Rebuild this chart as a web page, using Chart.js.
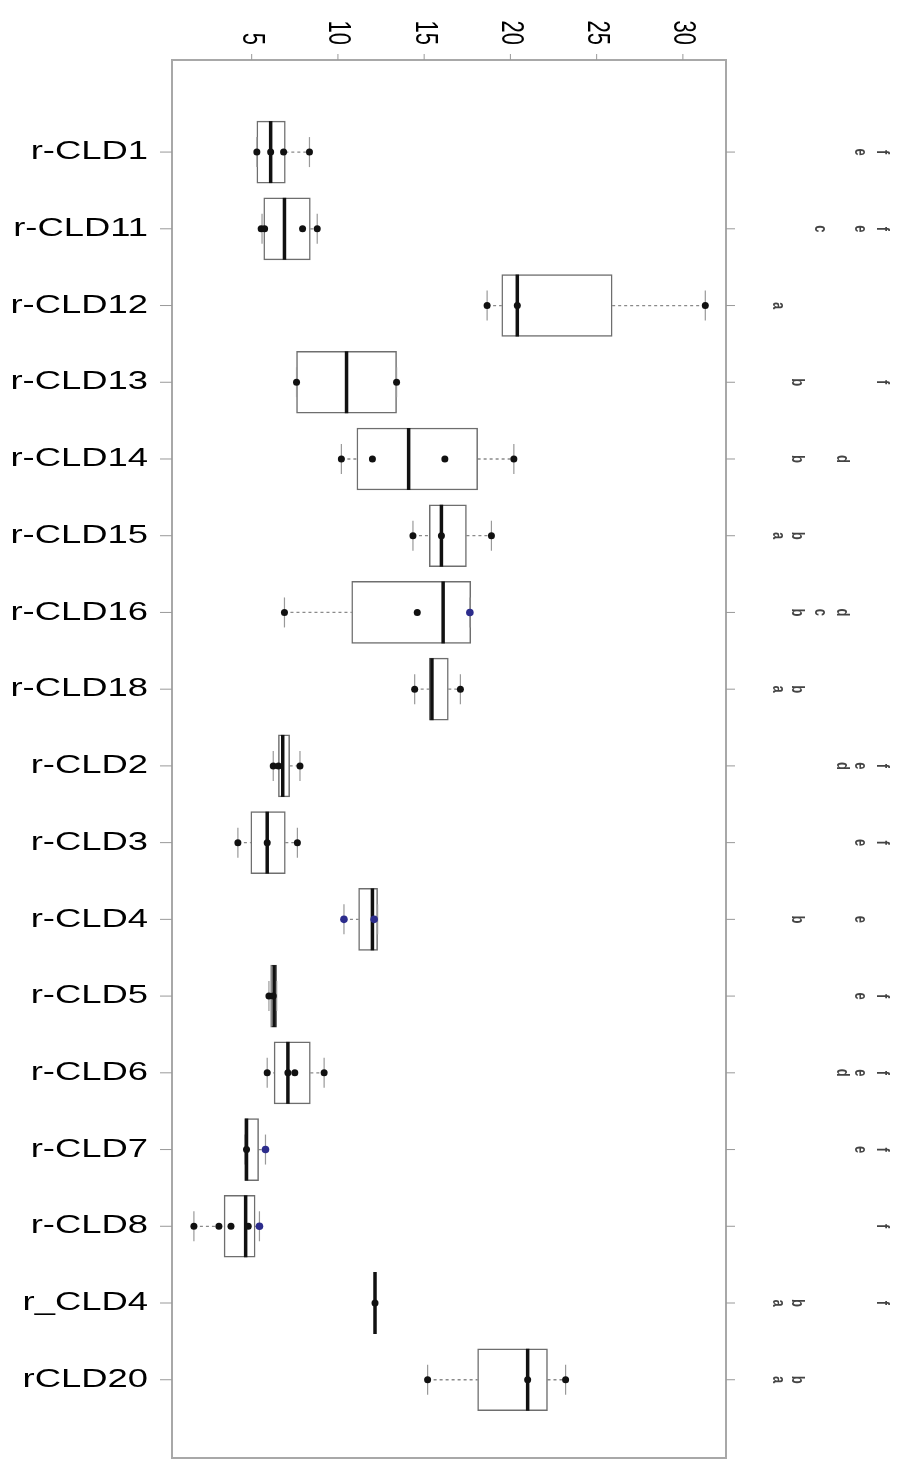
<!DOCTYPE html>
<html>
<head>
<meta charset="utf-8">
<style>
  html, body { margin: 0; padding: 0; background: #fff; overflow: hidden; }
  #wrap { position: relative; width: 899px; height: 1469px; }
</style>
<script src="https://cdn.jsdelivr.net/npm/chart.js@4.4.1/dist/chart.umd.min.js"></script>
</head>
<body>
<div id="wrap"><canvas id="myChart"></canvas></div>
<script>
'use strict';

// data

let cats = ['r-CLD1', 'r-CLD11', 'r-CLD12', 'r-CLD13', 'r-CLD14', 'r-CLD15', 'r-CLD16', 'r-CLD18',
  'r-CLD2', 'r-CLD3', 'r-CLD4', 'r-CLD5', 'r-CLD6', 'r-CLD7', 'r-CLD8', 'r_CLD4', 'rCLD20'];

let q1     = [5.3, 5.7, 19.5, 7.6, 11.1, 15.3, 10.8, 15.3, 6.55, 4.95, 11.2, 6.1, 6.3, 4.6, 3.4, 12.15, 18.1];
let median = [6.1, 6.9, 20.4, 10.5, 14.1, 16.0, 16.1, 15.45, 6.8, 5.9, 12.0, 6.3, 7.1, 4.7, 4.65, 12.15, 21.0];
let q3     = [6.95, 8.4, 25.9, 13.4, 18.1, 17.45, 17.7, 16.4, 7.2, 6.95, 12.3, 6.45, 8.4, 5.4, 5.2, 12.15, 22.15];
let loW    = [5.3, 5.6, 18.65, 7.6, 10.2, 14.35, 6.9, 14.45, 6.25, 4.2, 10.35, 6.0, 5.9, 4.6, 1.65, 12.15, 15.2];
let hiW    = [8.35, 8.8, 31.3, 13.4, 20.2, 18.9, 17.65, 17.1, 7.8, 7.65, 12.3, 6.45, 9.2, 5.8, 5.45, 12.15, 23.2];

let pointsBlack = [
  [5.3, 6.1, 6.85, 8.35],
  [5.55, 5.75, 7.95, 8.8],
  [18.65, 20.4, 31.3],
  [7.6, 13.4],
  [10.2, 12.0, 16.2, 20.2],
  [14.35, 16.0, 18.9],
  [6.9, 14.6],
  [14.45, 17.1],
  [6.25, 6.55, 7.8],
  [4.2, 5.9, 7.65],
  [],
  [6.0, 6.25],
  [5.9, 7.1, 7.5, 9.2],
  [4.7],
  [1.65, 3.1, 3.8, 4.8],
  [12.15],
  [15.2, 21.0, 23.2]
];
let pointsBlue = [[], [], [], [], [], [], [17.65], [], [], [], [10.35, 12.1], [], [], [5.8], [5.45], [], []];

let xTicks = [5, 10, 15, 20, 25, 30];

// group letters on the right side
let groups = ['ef', 'cef', 'a', 'bf', 'bd', 'ab', 'bcd', 'ab', 'def', 'ef', 'be', 'ef', 'def', 'ef', 'f', 'abf', 'ab'];


// build datasets from the arrays

let boxData = [];
let medData = [];
let stapleData = [];
let blackData = [];
let blueData = [];
for (let i = 0; i < cats.length; i++) {
  boxData.push({x: [q1[i], q3[i]], y: i});
  medData.push({x: median[i], y: i});
  stapleData.push({x: loW[i], y: i});
  stapleData.push({x: hiW[i], y: i});
  for (let j = 0; j < pointsBlack[i].length; j++) {
    blackData.push({x: pointsBlack[i][j], y: i});
  }
  for (let j = 0; j < pointsBlue[i].length; j++) {
    blueData.push({x: pointsBlue[i][j], y: i});
  }
}

const FONT = '"Liberation Sans", Arial, Helvetica, sans-serif';
const STRETCH = 1.4;

// whiskers under the boxes
const whiskerPlugin = {
  id: 'whiskers',
  beforeDatasetsDraw(chart) {
    const ctx = chart.ctx;
    const xs = chart.scales.x;
    const ys = chart.scales.y;
    ctx.save();
    ctx.strokeStyle = '#8a8a8a';
    ctx.lineWidth = 1.3;
    ctx.setLineDash([3, 3]);
    for (let i = 0; i < cats.length; i++) {
      let y = ys.getPixelForValue(i);
      ctx.beginPath();
      ctx.moveTo(xs.getPixelForValue(loW[i]), y);
      ctx.lineTo(xs.getPixelForValue(q1[i]), y);
      ctx.moveTo(xs.getPixelForValue(q3[i]), y);
      ctx.lineTo(xs.getPixelForValue(hiW[i]), y);
      ctx.stroke();
    }
    ctx.restore();
  }
};

// frame, ticks and text
const framePlugin = {
  id: 'frame',
  afterDraw(chart) {
    const ctx = chart.ctx;
    const a = chart.chartArea;
    const xs = chart.scales.x;
    const ys = chart.scales.y;
    ctx.save();

    ctx.strokeStyle = '#a8a8a8';
    ctx.lineWidth = 2;
    ctx.strokeRect(a.left, a.top, a.right - a.left, a.bottom - a.top);

    // top axis
    ctx.lineWidth = 1;
    ctx.strokeStyle = '#999';
    ctx.fillStyle = '#000';
    ctx.font = '22px ' + FONT;
    for (let k = 0; k < xTicks.length; k++) {
      let x = xs.getPixelForValue(xTicks[k]);
      ctx.beginPath();
      ctx.moveTo(x, a.top);
      ctx.lineTo(x, a.top - 6);
      ctx.stroke();
      ctx.save();
      ctx.translate(x, a.top - 15);
      ctx.scale(STRETCH, 1);
      ctx.rotate(Math.PI / 2);
      ctx.textAlign = 'right';
      ctx.textBaseline = 'middle';
      ctx.fillText(String(xTicks[k]), 0, 0);
      ctx.restore();
    }

    // category ticks and labels
    ctx.font = '26px ' + FONT;
    for (let i = 0; i < cats.length; i++) {
      let y = ys.getPixelForValue(i);
      ctx.beginPath();
      ctx.moveTo(a.left, y);
      ctx.lineTo(a.left - 12, y);
      ctx.moveTo(a.right, y);
      ctx.lineTo(a.right + 9, y);
      ctx.stroke();
      ctx.save();
      ctx.translate(a.left - 24, y);
      ctx.scale(STRETCH, 1);
      ctx.textAlign = 'right';
      ctx.textBaseline = 'middle';
      ctx.fillStyle = '#000';
      ctx.fillText(cats[i], 0, 0);
      ctx.restore();
    }

    // group letters
    const colOffset = {a: 52, b: 71, c: 94, d: 116, e: 134, f: 156};
    ctx.font = 'bold 13px ' + FONT;
    ctx.fillStyle = '#444';
    for (let i = 0; i < cats.length; i++) {
      let y = ys.getPixelForValue(i);
      for (let c of groups[i]) {
        ctx.save();
        ctx.translate(a.right + colOffset[c], y);
        ctx.scale(STRETCH, 1);
        ctx.rotate(Math.PI / 2);
        ctx.textAlign = 'center';
        ctx.textBaseline = 'middle';
        ctx.fillText(c, 0, 0);
        ctx.restore();
      }
    }
    ctx.restore();
  }
};

const bgPlugin = {
  id: 'bg',
  beforeDraw(chart) {
    const ctx = chart.ctx;
    ctx.save();
    ctx.fillStyle = '#fff';
    ctx.fillRect(0, 0, chart.width, chart.height);
    ctx.restore();
  }
};

const config = {
  type: 'bar',
  data: {
    datasets: [{
      type: 'scatter',
      label: 'points',
      data: blackData,
      pointStyle: 'circle',
      pointRadius: 3.5,
      backgroundColor: '#111',
      borderColor: '#111',
      borderWidth: 0,
      order: 0
    }, {
      type: 'scatter',
      label: 'points2',
      data: blueData,
      pointStyle: 'circle',
      pointRadius: 3.8,
      backgroundColor: '#2c2c8c',
      borderColor: '#2c2c8c',
      borderWidth: 0,
      order: 0
    }, {
      type: 'scatter',
      label: 'median',
      data: medData,
      pointStyle: 'line',
      rotation: 90,
      pointRadius: 31,
      borderColor: '#111',
      borderWidth: 3.5,
      order: 1
    }, {
      type: 'scatter',
      label: 'staples',
      data: stapleData,
      pointStyle: 'line',
      rotation: 90,
      pointRadius: 15,
      borderColor: '#999',
      borderWidth: 1.2,
      order: 2
    }, {
      type: 'bar',
      label: 'box',
      indexAxis: 'y',
      data: boxData,
      barThickness: 62,
      grouped: false,
      backgroundColor: '#fff',
      borderColor: '#6e6e6e',
      borderWidth: 1.5,
      borderSkipped: false,
      order: 3
    }]
  },
  options: {
    responsive: true,
    maintainAspectRatio: false,
    animation: false,
    events: [],
    layout: {
      autoPadding: false,
      padding: {left: 172, top: 60, right: 173, bottom: 11}
    },
    plugins: {
      legend: {display: false},
      tooltip: {enabled: false}
    },
    scales: {
      x: {type: 'linear', min: 0.38, max: 32.5, offset: false, display: false},
      y: {type: 'linear', min: -1.2, max: 17.02, reverse: true, offset: false, display: false}
    }
  },
  plugins: [bgPlugin, whiskerPlugin, framePlugin]
};

const myChart = new Chart(document.getElementById('myChart'), config);
</script>
</body>
</html>
